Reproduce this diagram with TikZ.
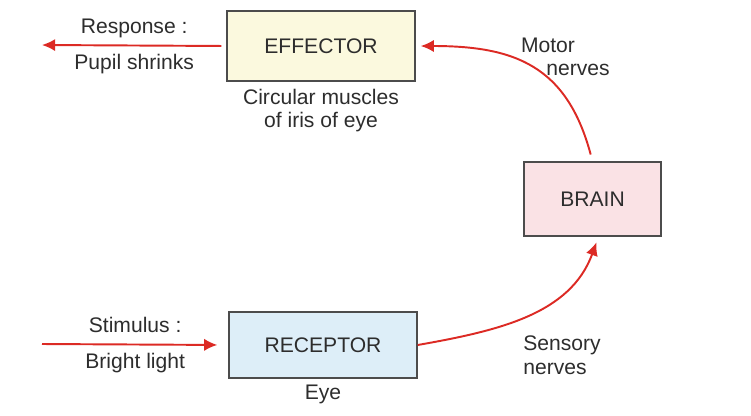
\documentclass[tikz,border=0pt]{standalone}
\usepackage{fontspec}
\setmainfont{Liberation Sans}
\usetikzlibrary{positioning,arrows.meta}
\definecolor{nerve}{RGB}{220,42,36}
\definecolor{ink}{RGB}{45,45,45}
\definecolor{effbg}{RGB}{251,249,222}
\definecolor{brainbg}{RGB}{250,226,229}
\definecolor{recbg}{RGB}{221,238,248}
\tikzset{
>={Latex[length=7.5pt,width=7pt]},
node distance=3cm,
font=\fontsize{12}{13.6}\selectfont,
text=ink,
}

\begin{document}
\begin{tikzpicture}
    [block/.style={draw=ink!85, line width=0.8pt, rectangle, minimum width=3.76cm, minimum height=1.4cm},
    nerve/.style={->, draw=nerve, line width=1.1pt},
    note/.style={align=center, inner sep=1pt},
    lbl/.style={inner sep=4pt, text height=9pt, text depth=2.5pt}
    ]
    \useasboundingbox (0,0) rectangle (15.02,8.30);

    \node [block, fill=effbg] (eff) at (6.42,7.38) {EFFECTOR};

    \node [block, fill=brainbg, minimum width=2.74cm, minimum height=1.48cm] (brain) at (11.85,4.32) {BRAIN};

    \node [block, fill=recbg, minimum height=1.32cm] (rec) at (6.46,1.40) {RECEPTOR};

    \node [note] (iris) [below=0.1cm of eff] {Circular muscles\\of iris of eye};
    \node [note] (eye) [below=0.08cm of rec] {Eye};

    \coordinate (resp) at (0.84,7.40);
    \coordinate (stim) at (0.84,1.42);

    \node (motor) at (10.96,7.40) {Motor};
    \node (motornrv) at (11.56,6.90) {nerves};
    \node [anchor=west, align=left, inner sep=0pt] (sensory) at (10.46,1.19) {Sensory\\nerves};

    \draw[nerve, shorten <=0.1cm] (eff.west) to node[lbl, above] (resptxt) {Response :} node[lbl, below] (pupil) {Pupil shrinks} (resp);
    \draw[nerve, shorten >=0.22cm] (stim) to node[lbl, above] (stimtxt) {Stimulus :} node[lbl, below] (light) {Bright light} (rec.west);
    \draw[nerve, shorten <=0.14cm, shorten >=0.1cm] (brain.north) to[out=105, in=0, looseness=1.2] (eff.east);
    \draw[nerve, shorten >=0.12cm] (rec.east) to[out=10, in=-110] ([xshift=0.12cm]brain.south);

\end{tikzpicture}
\end{document}
